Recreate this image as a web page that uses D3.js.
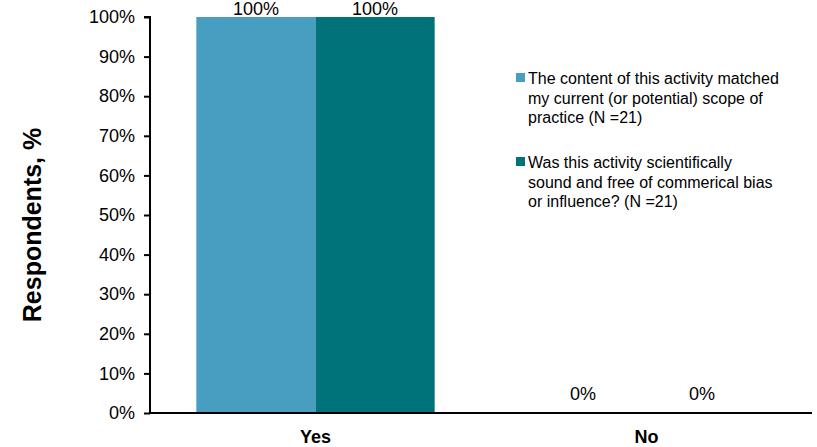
<!DOCTYPE html>
<html>
<head>
<meta charset="utf-8">
<script src="https://cdn.jsdelivr.net/npm/d3@7"></script>
<style>
  body { margin: 0; background: #fff; }
  text { font-family: "Liberation Sans", Arial, sans-serif; fill: #000; }
</style>
</head>
<body>
<script>
const width = 817,
      height = 447;

// data
const categories = ["Yes", "No"];
const seriesNames = [
  "The content of this activity matched my current (or potential) scope of practice (N =21)",
  "Was this activity scientifically sound and free of commerical bias or influence? (N =21)"
];
const seriesValues = [
  [100, 0],
  [100, 0]
];
const yTicks = [0, 10, 20, 30, 40, 50, 60, 70, 80, 90, 100];
const legendLines = [
  ["The content of this activity matched", "my current (or potential) scope of", "practice (N =21)"],
  ["Was this activity scientifically", "sound and free of commerical bias", "or influence? (N =21)"]
];
const colors = ["#479ec1", "#00727a"];

const margin = {top: 17, right: 5, bottom: 34, left: 150};

const svg = d3.select("body")
              .append("svg")
              .attr("width", width)
              .attr("height", height);

const x0 = d3.scaleBand()
             .domain(categories)
             .range([margin.left, width - margin.right])
             .paddingInner(0.28)
             .paddingOuter(0.14);

const x1 = d3.scaleBand()
             .domain(d3.range(seriesNames.length))
             .range([0, x0.bandwidth()]);

const y = d3.scaleLinear()
            .domain([0, 100])
            .range([height - margin.bottom, margin.top]);

// bars
const groups = svg.append("g")
  .selectAll("g")
  .data(seriesValues)
  .join("g")
  .attr("fill", (d, i) => colors[i]);

groups.selectAll("rect")
  .data((d, i) => d.map((v, j) => ({v, j, s: i})))
  .join("rect")
  .attr("x", d => x0(categories[d.j]) + x1(d.s))
  .attr("y", d => y(d.v))
  .attr("width", x1.bandwidth())
  .attr("height", d => y(0) - y(d.v));

// value labels
groups.selectAll("text")
  .data((d, i) => d.map((v, j) => ({v, j, s: i})))
  .join("text")
  .attr("x", d => x0(categories[d.j]) + x1(d.s) + x1.bandwidth() / 2 - (d.v === 0 ? 4 : 0))
  .attr("y", d => d.v === 0 ? y(0) - 13 : y(d.v) - 2)
  .attr("text-anchor", "middle")
  .style("font-size", "18px")
  .text(d => d.v + "%");

// y axis
const yAxis = svg.append("g")
  .attr("transform", `translate(${margin.left},0)`)
  .call(d3.axisLeft(y).tickValues(yTicks).tickSize(6).tickPadding(9).tickFormat(d => d + "%"));
yAxis.select(".domain").attr("stroke", "#000").attr("stroke-width", 2).attr("d", `M-6,${y(100)}H0V${y(0)}`);
yAxis.selectAll(".tick line").attr("stroke", "#000").attr("stroke-width", 2);
yAxis.selectAll(".tick text").style("font-size", "18px").attr("font-family", null);

// x axis
const xAxis = svg.append("g")
  .attr("transform", `translate(0,${y(0)})`)
  .call(d3.axisBottom(x0).tickSize(0).tickPadding(17));
xAxis.select(".domain").attr("stroke", "#000").attr("stroke-width", 2)
  .attr("d", `M${margin.left - 1},0H${width - margin.right}`);
xAxis.selectAll(".tick text").style("font-size", "18px").style("font-weight", "bold").attr("font-family", null);

// y title
svg.append("text")
  .attr("transform", `translate(41,${(y(0) + y(100)) / 2 + 10}) rotate(-90)`)
  .attr("text-anchor", "middle")
  .style("font-size", "25px")
  .style("font-weight", "bold")
  .text("Respondents, %");

// legend
const legend = svg.append("g")
  .selectAll("g")
  .data(legendLines)
  .join("g")
  .attr("transform", (d, i) => `translate(516,${73 + i * 84})`);

legend.append("rect")
  .attr("width", 9)
  .attr("height", 9)
  .attr("fill", (d, i) => colors[i]);

legend.append("text")
  .attr("y", 11)
  .style("font-size", "16px")
  .selectAll("tspan")
  .data(d => d)
  .join("tspan")
  .attr("x", 12)
  .attr("dy", (d, i) => i === 0 ? 0 : 19.5)
  .text(d => d);
</script>
</body>
</html>
